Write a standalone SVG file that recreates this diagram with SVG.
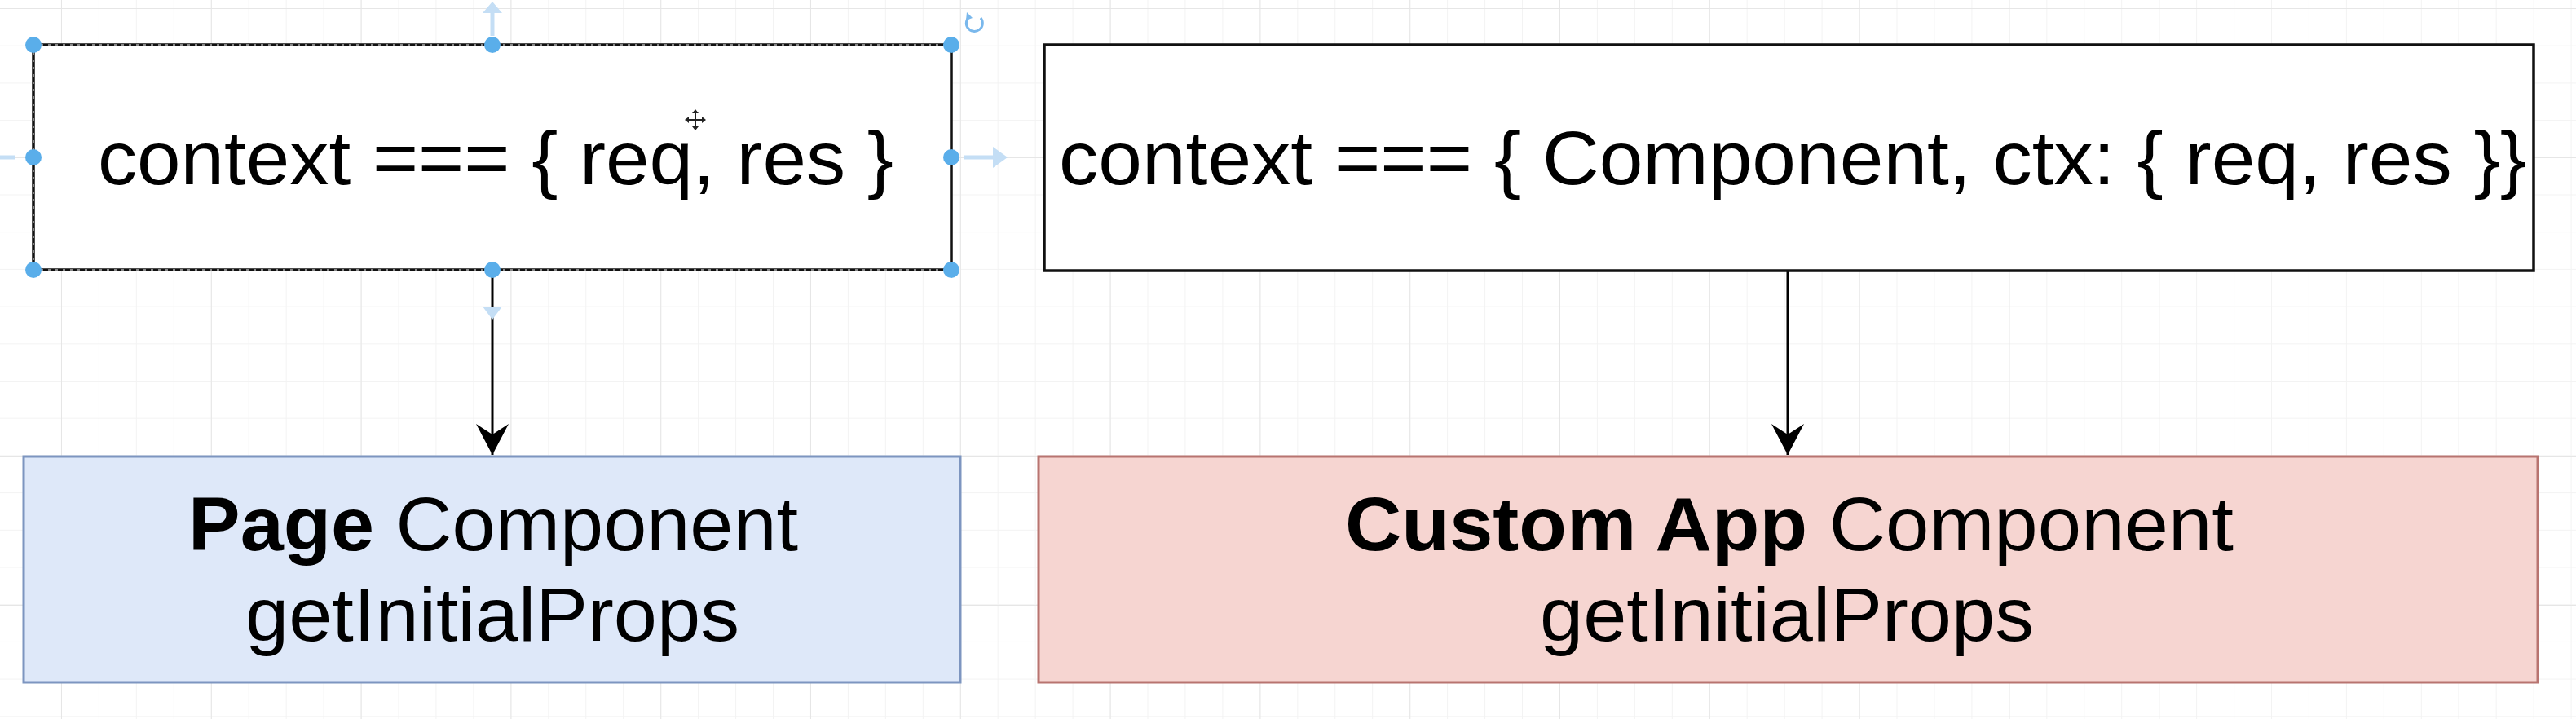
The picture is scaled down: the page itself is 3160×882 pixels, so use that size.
<svg xmlns="http://www.w3.org/2000/svg" width="3160" height="882" viewBox="0 0 3160 882">
  <style>
    .lbl { font-family: "Liberation Sans", Arial, Helvetica, sans-serif; font-size: 92px; fill: #000; }
    .b { font-weight: bold; }
    .conn { stroke: #000; stroke-width: 3; fill: none; }
    .handle { fill: #5aaeea; }
    .hint { stroke: #c4def5; stroke-width: 5; fill: none; }
    .hinthead { fill: #c4def5; }
  </style>
  <defs>
    <pattern id="gMinor" patternUnits="userSpaceOnUse" x="29" y="10" width="45.95" height="45.7">
      <path d="M0,0 V45.7 M0,0 H45.95" stroke="#f3f3f3" stroke-width="2" fill="none"/>
    </pattern>
    <pattern id="gMajor" patternUnits="userSpaceOnUse" x="75" y="10" width="183.8" height="183">
      <path d="M0,0 V183 M0,0 H183.8" stroke="#e6e6e6" stroke-width="2" fill="none"/>
    </pattern>
    <marker id="arrow" markerUnits="userSpaceOnUse" viewBox="-1 -21 41 42" markerWidth="41" markerHeight="42" refX="38" refY="0" orient="auto">
      <path d="M0,-20 L38,0 L0,20 L13,0 Z" fill="#000"/>
    </marker>
  </defs>

  <rect width="3160" height="882" fill="#ffffff"/>
  <rect width="3160" height="882" fill="url(#gMinor)"/>
  <rect width="3160" height="882" fill="url(#gMajor)"/>

  <g id="connectors">
    <line class="conn" x1="604" y1="331" x2="604" y2="558" marker-end="url(#arrow)"/>
    <line class="conn" x1="2193" y1="332" x2="2193" y2="558" marker-end="url(#arrow)"/>
  </g>

  <g id="node-context-page">
    <rect x="41" y="55" width="1126" height="276" fill="#ffffff" stroke="#111" stroke-width="3.5"/>
    <path d="M41,55 H1167 M41,331 H1167 M41,55 V331" stroke="#ffffff" stroke-width="1" stroke-dasharray="3 6" fill="none"/>
    <text class="lbl" x="608" y="226" text-anchor="middle" textLength="976" lengthAdjust="spacingAndGlyphs">context === { req, res }</text>
  </g>

  <g id="node-context-app">
    <rect x="1281" y="55" width="1827" height="277" fill="#ffffff" stroke="#111" stroke-width="3.5"/>
    <text class="lbl" x="2199" y="226" text-anchor="middle" textLength="1800" lengthAdjust="spacingAndGlyphs">context === { Component, ctx: { req, res }}</text>
  </g>

  <g id="node-page-component">
    <rect x="29" y="560" width="1149" height="277" fill="#dee8f9" stroke="#7d95c0" stroke-width="3"/>
    <text class="lbl" x="605" y="675" text-anchor="middle" textLength="748" lengthAdjust="spacingAndGlyphs"><tspan class="b">Page</tspan> Component</text>
    <text class="lbl" x="604" y="786" text-anchor="middle" textLength="606" lengthAdjust="spacingAndGlyphs">getInitialProps</text>
  </g>

  <g id="node-app-component">
    <rect x="1274" y="560" width="1839" height="277" fill="#f6d5d1" stroke="#b87470" stroke-width="3"/>
    <text class="lbl" x="2195" y="675" text-anchor="middle" textLength="1090" lengthAdjust="spacingAndGlyphs"><tspan class="b">Custom App</tspan> Component</text>
    <text class="lbl" x="2192" y="786" text-anchor="middle" textLength="606" lengthAdjust="spacingAndGlyphs">getInitialProps</text>
  </g>

  <g id="selection-overlay">
    <line class="hint" x1="604" y1="44" x2="604" y2="12"/>
    <path class="hinthead" d="M592,16 L604,2 L616,16 Z"/>
    <line class="hint" x1="1182" y1="193" x2="1222" y2="193"/>
    <path class="hinthead" d="M1218,180 L1236,193 L1218,206 Z"/>
    <line class="hint" x1="0" y1="193" x2="18" y2="193"/>
    <path class="hinthead" d="M592,376 L604,392 L616,376 Z"/>
    <circle class="handle" cx="41" cy="55" r="10"/>
    <circle class="handle" cx="604" cy="55" r="10"/>
    <circle class="handle" cx="1167" cy="55" r="10"/>
    <circle class="handle" cx="41" cy="193" r="10"/>
    <circle class="handle" cx="1167" cy="193" r="10"/>
    <circle class="handle" cx="41" cy="331" r="10"/>
    <circle class="handle" cx="604" cy="331" r="10"/>
    <circle class="handle" cx="1167" cy="331" r="10"/>
    <path d="M1203,22 A10,10 0 1 1 1190,20" stroke="#7ab8ec" stroke-width="3" fill="none"/>
    <path d="M1186,15 L1193,22 L1185,25 Z" fill="#7ab8ec"/>
    <path d="M853,137 V158 M843,147 H863" stroke="#222" stroke-width="2" fill="none"/>
    <path d="M849,139 L853,134 L857,139 Z M849,155 L853,160 L857,155 Z M845,143 L840,147 L845,151 Z M861,143 L866,147 L861,151 Z" fill="#222"/>
  </g>
</svg>
